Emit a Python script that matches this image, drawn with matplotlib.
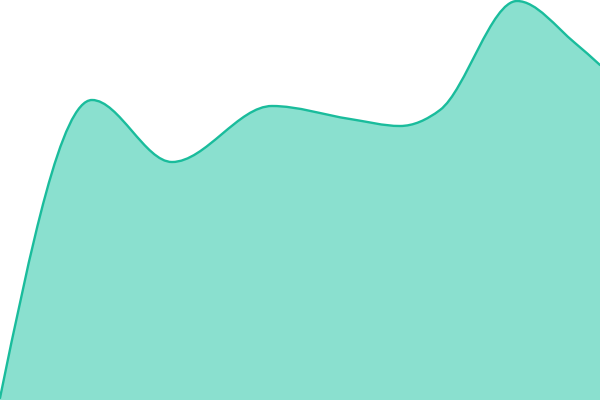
import matplotlib
matplotlib.use("Agg")
import matplotlib.pyplot as plt
from matplotlib.path import Path
from matplotlib.patches import PathPatch

# values (x position, height above bottom)
x_vals = [0, 92, 172, 272, 350, 400, 440, 517, 575, 600]
y_vals = [2, 300, 238, 294, 281, 274, 290, 399, 357, 335]

line_color = "#1abc9c"
fill_color = "#8ae0cf"


def sign(v):
    return (v > 0) - (v < 0)


def monotone_path(xs, ys):
    # monotone cubic (like d3 curveMonotoneX) as bezier segments
    n = len(xs)
    h = [xs[i + 1] - xs[i] for i in range(n - 1)]
    s = [(ys[i + 1] - ys[i]) / h[i] for i in range(n - 1)]
    m = [0.0] * n
    for i in range(1, n - 1):
        p = (s[i - 1] * h[i] + s[i] * h[i - 1]) / (h[i - 1] + h[i])
        m[i] = (sign(s[i - 1]) + sign(s[i])) * min(abs(s[i - 1]), abs(s[i]), 0.5 * abs(p))
    m[0] = (3 * s[0] - m[1]) / 2
    m[-1] = (3 * s[-1] - m[-2]) / 2

    verts = [(xs[0], ys[0])]
    codes = [Path.MOVETO]
    for i in range(n - 1):
        d = h[i] / 3
        verts += [(xs[i] + d, ys[i] + m[i] * d),
                  (xs[i + 1] - d, ys[i + 1] - m[i + 1] * d),
                  (xs[i + 1], ys[i + 1])]
        codes += [Path.CURVE4] * 3
    return verts, codes


fig = plt.figure(figsize=(6, 4), dpi=100)
ax = fig.add_axes([0, 0, 1, 1])

verts, codes = monotone_path(x_vals, y_vals)

area_verts = verts + [(x_vals[-1], 0), (x_vals[0], 0), verts[0]]
area_codes = codes + [Path.LINETO, Path.LINETO, Path.CLOSEPOLY]
ax.add_patch(PathPatch(Path(area_verts, area_codes), facecolor=fill_color, edgecolor="none"))
ax.add_patch(PathPatch(Path(verts, codes), facecolor="none", edgecolor=line_color,
                       linewidth=1.7, capstyle="round", joinstyle="round"))

ax.set_xlim(0, 600)
ax.set_ylim(0, 400)
ax.axis("off")

fig.savefig("out.png", dpi=100)
